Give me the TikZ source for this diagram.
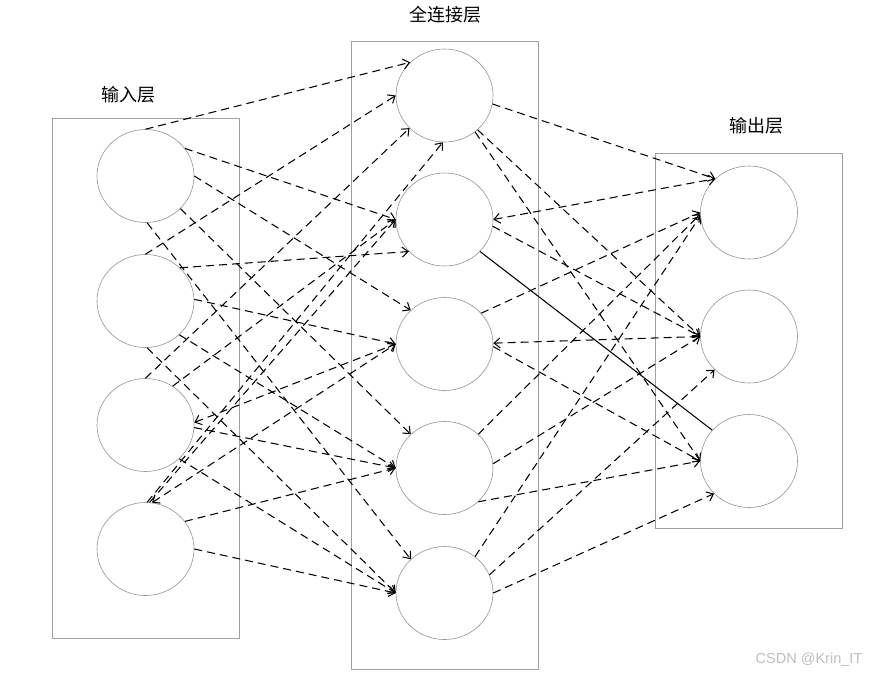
\documentclass[tikz,border=0pt]{standalone}
\usepackage{fontspec}
\newfontfamily\cjk{Noto Sans CJK SC}
\newfontfamily\wmfont{Liberation Sans}
\usetikzlibrary{arrows.meta,shapes.geometric}
\begin{document}
\begin{tikzpicture}[x=1pt,y=-1pt,
  neuron/.style={ellipse, draw=gray!85, line width=0.6pt, minimum width=97pt, minimum height=93pt, inner sep=0pt},
  layerbox/.style={draw=gray!75, line width=0.8pt},
  conn/.style={draw=black, line width=1.05pt, dash pattern=on 8pt off 5pt, -{Straight Barb[length=6pt,width=10pt]}},
  bconn/.style={conn, {Straight Barb[length=6pt,width=10pt]}-{Straight Barb[length=6pt,width=10pt]}},
  solidconn/.style={draw=black, line width=1.05pt},
  lbl/.style={font=\cjk\fontsize{18}{18}\selectfont}]
\fill[white] (0,0) rectangle (869,675);
\useasboundingbox (0,0) rectangle (869,675);
% layer boxes
\draw[layerbox] (52,118) rectangle (239,638);
\draw[layerbox] (351,41) rectangle (538,669);
\draw[layerbox] (655,153) rectangle (842,528);
% labels
\node[lbl] (lin) at (128,95) {输入层};
\node[lbl] (lhid) at (445,15) {全连接层};
\node[lbl] (lout) at (756,126) {输出层};
\node[font=\wmfont\fontsize{14.5}{14.5}\selectfont, text=gray!50] (wm) at (809,660) {CSDN @Krin\_IT};
% neurons
\node[neuron] (i1) at (145.5,176) {};
\node[neuron] (i2) at (145.5,301) {};
\node[neuron] (i3) at (145.5,425) {};
\node[neuron] (i4) at (145.5,549) {};
\node[neuron] (h1) at (444.5,95.5) {};
\node[neuron] (h2) at (444.5,219.5) {};
\node[neuron] (h3) at (444.5,344) {};
\node[neuron] (h4) at (444.5,468) {};
\node[neuron] (h5) at (444.5,593) {};
\node[neuron] (o1) at (749,212.5) {};
\node[neuron] (o2) at (749,336.5) {};
\node[neuron] (o3) at (749,461) {};
% input 1
\draw[conn] (i1.90) -- (h1.136);
\draw[conn] (i1.35) -- (h2.180);
\draw[conn] (i1.0) -- (h3.135);
\draw[conn] (i1.-43) -- (h4.135);
\draw[conn] (i1.-88) -- (h5.135);
% input 2
\draw[conn] (i2.90) -- (h1.180);
\draw[conn] (i2.44) -- (h2.222);
\draw[conn] (i2.2) -- (h3.180);
\draw[conn] (i2.-45) -- (h4.180);
\draw[conn] (i2.-88) -- (h5.180);
% input 3
\draw[conn] (i3.90) -- (h1.223);
\draw[conn] (i3.55) -- (h2.180);
\draw[bconn] (i3.3) -- (h3.180);
\draw[conn] (i3.-3) -- (h4.180);
\draw[conn] (i3.-45) -- (h5.180);
% input 4
\draw[conn] (i4.88) -- (h1.268);
\draw[conn] (i4.85) -- (h2.180);
\draw[bconn] (i4.82) -- (h3.180);
\draw[conn] (i4.35) -- (h4.180);
\draw[conn] (i4.0) -- (h5.180);
% hidden 1
\draw[conn] (h1.-10) -- (o1.135);
\draw[conn] (h1.-46) -- (o2.180);
\draw[conn] (h1.-50) -- (o3.180);
% hidden 2
\draw[bconn] (h2.0) -- (o1.135);
\draw[conn] (h2.-8) -- (o2.180);
\draw[solidconn] (h2.-42) -- (o3.140);
% hidden 3
\draw[conn] (h3.40) -- (o1.180);
\draw[bconn] (h3.1) -- (o2.180);
\draw[conn] (h3.-3) -- (o3.180);
% hidden 4
\draw[conn] (h4.45) -- (o1.182);
\draw[conn] (h4.5) -- (o2.180);
\draw[conn] (h4.-45) -- (o3.180);
% hidden 5
\draw[conn] (h5.50) -- (o1.184);
\draw[conn] (h5.22) -- (o2.224);
\draw[conn] (h5.0) -- (o3.223);
\end{tikzpicture}
\end{document}
